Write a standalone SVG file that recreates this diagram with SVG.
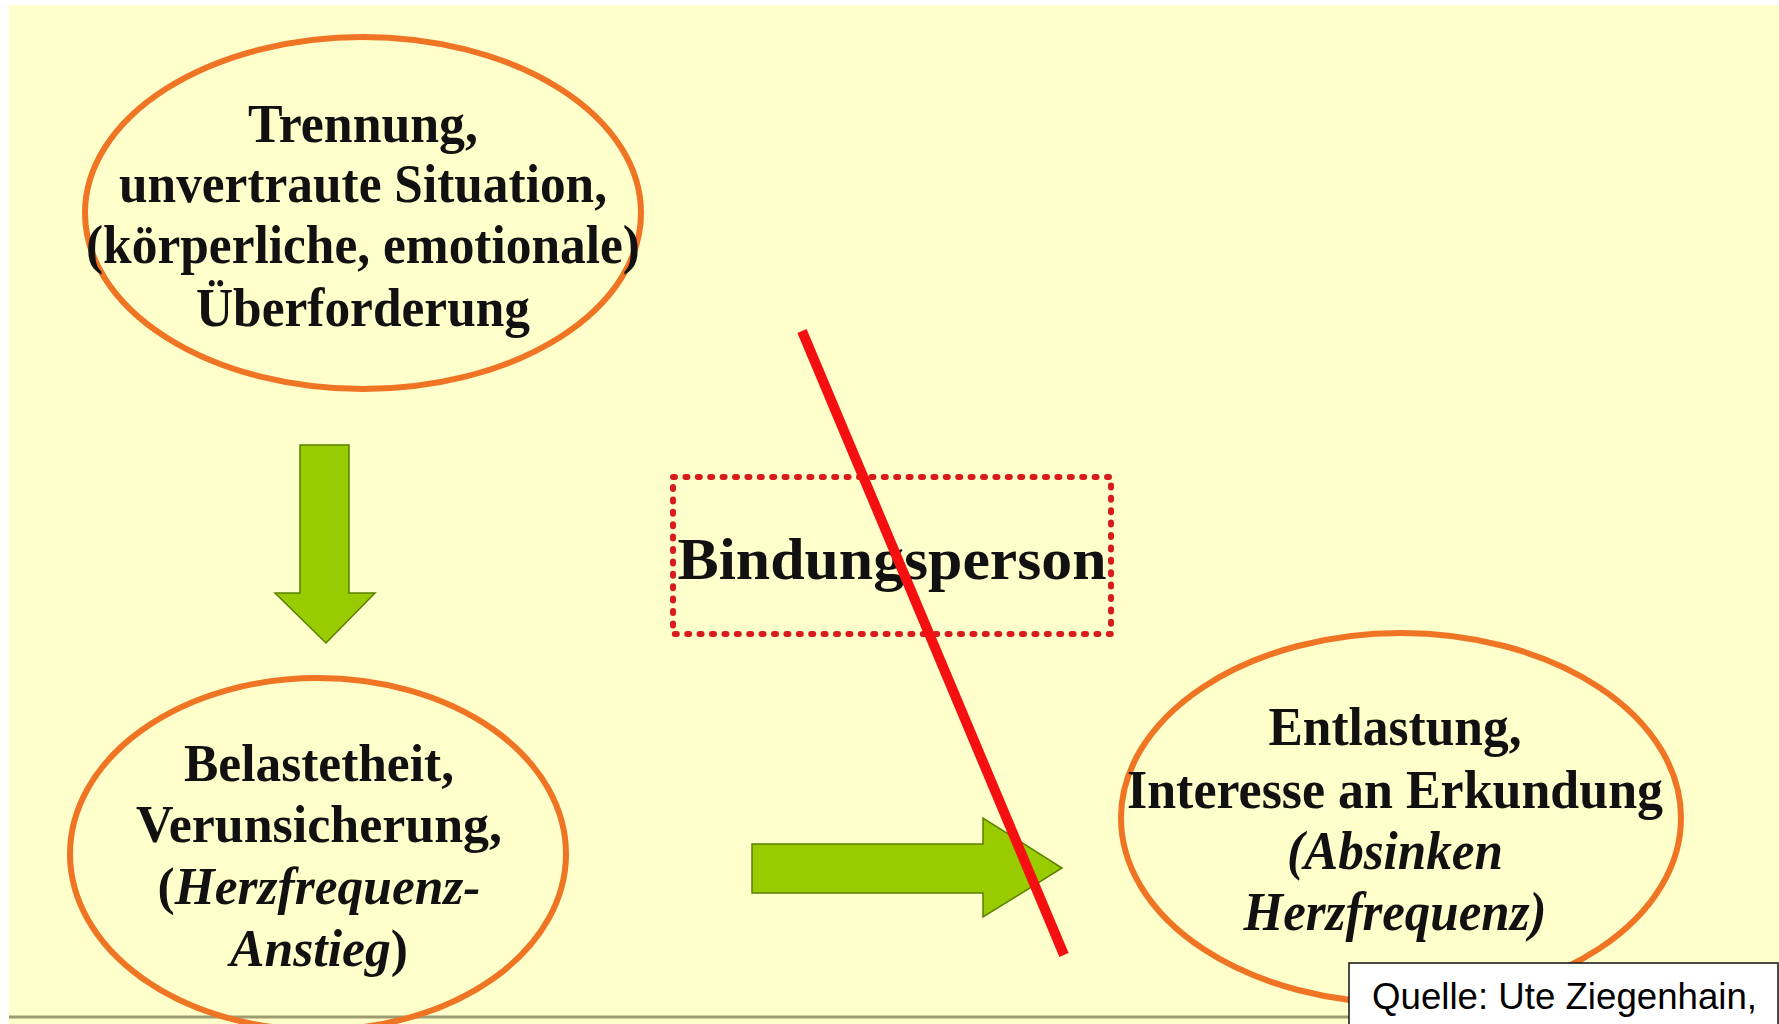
<svg xmlns="http://www.w3.org/2000/svg" width="1779" height="1024" viewBox="0 0 1779 1024">
  <style>
    .ell { fill: none; stroke: #ef7524; stroke-width: 6; }
    .lbl { font-family: "Liberation Serif", "Times New Roman", serif; font-weight: bold; fill: #111; text-anchor: middle; }
    .it { font-style: italic; }
    .arrow { fill: #99cc00; stroke: #5b7f00; stroke-width: 1.5; stroke-linejoin: miter; }
    .src { font-family: "Liberation Sans", Arial, sans-serif; font-size: 37px; fill: #000; }
  </style>

  <!-- page background -->
  <rect x="0" y="0" width="1779" height="1024" fill="#ffffff"/>
  <rect x="9" y="5" width="1770" height="1019" fill="#ffffcc"/>
  <line x1="9" y1="1017" x2="1350" y2="1017" stroke="#9c9c72" stroke-width="3"/>

  <!-- connectors -->
  <g id="connectors">
    <path id="arrow-down" class="arrow" d="M300,445 L349,445 L349,593 L375,593 L326,643 L275,593 L300,593 Z"/>
    <path id="arrow-right" class="arrow" d="M752,844 L983,844 L983,818 L1062,868 L983,917 L983,893 L752,893 Z"/>
  </g>

  <!-- node: separation / unfamiliar situation -->
  <g id="node-trennung">
    <ellipse class="ell" cx="363" cy="213" rx="278" ry="176"/>
    <text class="lbl" font-size="55" x="363" y="142" textLength="230" lengthAdjust="spacingAndGlyphs">Trennung,</text>
    <text class="lbl" font-size="55" x="363" y="202" textLength="488" lengthAdjust="spacingAndGlyphs">unvertraute Situation,</text>
    <text class="lbl" font-size="55" x="363" y="263" textLength="554" lengthAdjust="spacingAndGlyphs">(körperliche, emotionale)</text>
    <text class="lbl" font-size="55" x="363" y="326" textLength="334" lengthAdjust="spacingAndGlyphs">Überforderung</text>
  </g>

  <!-- node: stress / insecurity -->
  <g id="node-belastetheit">
    <ellipse class="ell" cx="318" cy="854" rx="248" ry="176"/>
    <text class="lbl" font-size="52" x="319" y="781" textLength="270" lengthAdjust="spacingAndGlyphs">Belastetheit,</text>
    <text class="lbl" font-size="52" x="319" y="842" textLength="366" lengthAdjust="spacingAndGlyphs">Verunsicherung,</text>
    <text class="lbl" font-size="52" x="319" y="904" textLength="323" lengthAdjust="spacingAndGlyphs">(<tspan class="it">Herzfrequenz-</tspan></text>
    <text class="lbl" font-size="52" x="319" y="966" textLength="178" lengthAdjust="spacingAndGlyphs"><tspan class="it">Anstieg</tspan>)</text>
  </g>

  <!-- node: attachment figure (dotted frame) -->
  <g id="node-bindungsperson">
    <rect x="673" y="477" width="438" height="157" fill="none" stroke="#d81c1c" stroke-width="6" stroke-dasharray="2 10.4" stroke-linecap="round"/>
    <text class="lbl" font-size="60" x="892" y="579" textLength="429" lengthAdjust="spacingAndGlyphs">Bindungsperson</text>
  </g>

  <!-- node: relief / interest in exploration -->
  <g id="node-entlastung">
    <ellipse class="ell" cx="1401" cy="818" rx="280" ry="185"/>
    <text class="lbl" font-size="55" x="1395" y="745" textLength="253" lengthAdjust="spacingAndGlyphs">Entlastung,</text>
    <text class="lbl" font-size="55" x="1395" y="808" textLength="536" lengthAdjust="spacingAndGlyphs">Interesse an Erkundung</text>
    <text class="lbl it" font-size="55" x="1395" y="869" textLength="216" lengthAdjust="spacingAndGlyphs">(Absinken</text>
    <text class="lbl it" font-size="55" x="1395" y="930" textLength="303" lengthAdjust="spacingAndGlyphs">Herzfrequenz)</text>
  </g>

  <!-- strike-through over the attachment path -->
  <g id="strike">
    <line x1="802" y1="331" x2="1064" y2="955" stroke="#f41010" stroke-width="10"/>
  </g>

  <!-- source box -->
  <g id="source">
    <rect x="1349" y="963" width="429" height="70" fill="#ffffff" stroke="#111" stroke-width="1.5"/>
    <text class="src" x="1372" y="1009" textLength="385" lengthAdjust="spacingAndGlyphs">Quelle: Ute Ziegenhain,</text>
  </g>
</svg>
